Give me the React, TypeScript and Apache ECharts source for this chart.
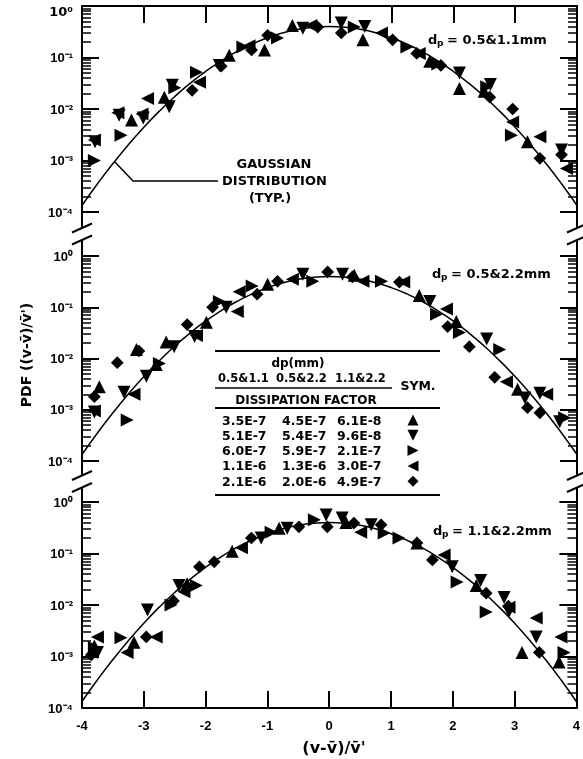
import React, { useEffect, useRef } from 'react';
import * as echarts from 'echarts';

// ---------- data ----------
const X_TICKS = [-4, -3, -2, -1, 0, 1, 2, 3, 4];
const Y_LABELS: Record<string, string> = { '0': '10\u2070', '-1': '10\u207B\u00B9', '-2': '10\u207B\u00B2', '-3': '10\u207B\u00B3', '-4': '10\u207B\u2074' };
const GAUSS_X = [-4, -3.75, -3.5, -3.25, -3, -2.75, -2.5, -2.25, -2, -1.75, -1.5, -1.25, -1, -0.75, -0.5, -0.25, 0,
  0.25, 0.5, 0.75, 1, 1.25, 1.5, 1.75, 2, 2.25, 2.5, 2.75, 3, 3.25, 3.5, 3.75, 4];
const GAUSS_Y = [0.0001338, 0.0003527, 0.0008727, 0.002029, 0.004432, 0.00909, 0.01753, 0.03174, 0.05399, 0.08628,
  0.12952, 0.18265, 0.24197, 0.30114, 0.35207, 0.38667, 0.39894, 0.38667, 0.35207, 0.30114, 0.24197, 0.18265,
  0.12952, 0.08628, 0.05399, 0.03174, 0.01753, 0.00909, 0.004432, 0.002029, 0.0008727, 0.0003527, 0.0001338];

// panel 1 : dp = 0.5&1.1mm
const P1_UP = [[-3.2, 6.1e-3], [-2.67, 1.7e-2], [-1.62, 0.11], [-1.05, 0.14], [-0.6, 0.42], [0.54, 0.22], [1.62, 0.085], [2.1, 0.025], [2.5, 0.022], [3.2, 2.3e-3]];
const P1_DOWN = [[-3.79, 2.3e-3], [-3.4, 7.6e-3], [-3.01, 6.7e-3], [-2.59, 1.1e-2], [-2.54, 2.9e-2], [-1.78, 0.07], [-0.43, 0.37], [0.19, 0.47], [0.57, 0.4], [2.1, 0.05], [2.6, 0.03], [3.75, 1.6e-3]];
const P1_RIGHT = [[-3.8, 1.0e-3], [-3.37, 3.1e-3], [-2.5, 2.6e-2], [-2.15, 5.2e-2], [-1.4, 0.16], [-0.84, 0.24], [0.4, 0.39], [1.25, 0.16], [1.75, 0.075], [2.54, 0.027], [2.94, 3.1e-3]];
const P1_LEFT = [[-3.8, 2.5e-3], [-3.42, 8.5e-3], [-3.03, 8.0e-3], [-2.94, 1.6e-2], [-2.1, 3.3e-2], [-1.3, 0.17], [-0.3, 0.42], [0.84, 0.3], [1.45, 0.12], [2.96, 5.6e-3], [3.4, 2.9e-3], [3.83, 7.0e-4]];
const P1_DIAMOND = [[-2.22, 2.3e-2], [-1.75, 0.068], [-1.26, 0.14], [-1.0, 0.27], [-0.19, 0.39], [0.19, 0.3], [1.02, 0.22], [1.41, 0.12], [1.8, 0.07], [2.59, 0.017], [2.96, 0.01], [3.4, 1.1e-3], [3.75, 1.3e-3]];

// panel 2 : dp = 0.5&2.2mm
const P2_UP = [[-3.72, 2.8e-3], [-3.12, 1.5e-2], [-2.8, 7.6e-3], [-2.64, 2.1e-2], [-1.99, 0.051], [-1.0, 0.28], [0.4, 0.42], [1.45, 0.17], [2.05, 0.053], [3.04, 2.5e-3]];
const P2_DOWN = [[-3.8, 9e-4], [-3.32, 2.2e-3], [-2.96, 4.5e-3], [-2.51, 1.7e-2], [-2.18, 2.7e-2], [-1.67, 0.1], [-0.43, 0.44], [0.21, 0.44], [1.62, 0.13], [2.54, 0.024], [3.16, 1.7e-3], [3.4, 2.1e-3], [3.72, 5.8e-4]];
const P2_RIGHT = [[-3.27, 6.3e-4], [-2.75, 8e-3], [-1.78, 0.13], [-1.25, 0.26], [-0.27, 0.32], [0.84, 0.32], [1.73, 0.073], [2.1, 0.032], [2.75, 0.015], [3.8, 7e-4]];
const P2_LEFT = [[-3.8, 9.5e-4], [-3.16, 2.0e-3], [-2.15, 2.8e-2], [-1.49, 0.083], [-1.46, 0.2], [-0.6, 0.35], [0.54, 0.32], [1.2, 0.31], [1.89, 0.092], [2.86, 3.5e-3], [3.51, 2.0e-3]];
const P2_DIAMOND = [[-3.8, 1.8e-3], [-3.43, 8.3e-3], [-3.08, 1.4e-2], [-2.3, 4.6e-2], [-1.89, 0.1], [-1.17, 0.18], [-0.84, 0.32], [-0.03, 0.49], [0.37, 0.39], [1.13, 0.31], [1.91, 0.042], [2.26, 0.017], [2.67, 4.3e-3], [3.2, 1.1e-3], [3.4, 8.7e-4]];

// panel 3 : dp = 1.1&2.2mm
const P3_UP = [[-3.8, 1.6e-3], [-3.16, 1.9e-3], [-2.3, 2.6e-2], [-1.57, 0.11], [-0.81, 0.31], [0.27, 0.4], [1.42, 0.16], [2.38, 0.024], [3.12, 1.2e-3], [3.72, 7.8e-4]];
const P3_DOWN = [[-3.75, 1.2e-3], [-2.94, 8e-3], [-2.43, 2.4e-2], [-1.1, 0.2], [-0.68, 0.31], [-0.05, 0.56], [0.21, 0.49], [0.68, 0.36], [1.99, 0.055], [2.45, 0.03], [2.83, 0.014], [2.91, 0.0075], [3.35, 2.4e-3]];
const P3_RIGHT = [[-3.8, 1.5e-3], [-3.37, 2.3e-3], [-2.56, 1.0e-2], [-2.15, 2.4e-2], [-0.94, 0.26], [-0.24, 0.45], [0.89, 0.25], [1.13, 0.2], [2.07, 0.028], [2.54, 7.3e-3], [3.8, 1.2e-3]];
const P3_LEFT = [[-3.75, 2.4e-3], [-3.27, 1.2e-3], [-2.8, 2.4e-3], [-2.35, 1.8e-2], [-1.42, 0.13], [0.51, 0.26], [1.86, 0.093], [2.91, 9e-3], [3.35, 5.6e-3], [3.75, 2.4e-3]];
const P3_DIAMOND = [[-3.85, 1.07e-3], [-2.96, 2.4e-3], [-2.52, 1.2e-2], [-2.1, 5.5e-2], [-1.86, 0.069], [-1.26, 0.2], [-0.49, 0.33], [-0.03, 0.33], [0.4, 0.39], [0.84, 0.36], [1.42, 0.16], [1.67, 0.075], [2.54, 0.017], [2.9, 9.5e-3], [3.4, 1.2e-3]];

const PANEL_LABELS = ['= 0.5&1.1mm', '= 0.5&2.2mm', '= 1.1&2.2mm'];
const TABLE_HEAD = ['0.5&1.1', '0.5&2.2', '1.1&2.2'];
const TABLE_ROWS = [
  ['3.5E-7', '4.5E-7', '6.1E-8'],
  ['5.1E-7', '5.4E-7', '9.6E-8'],
  ['6.0E-7', '5.9E-7', '2.1E-7'],
  ['1.1E-6', '1.3E-6', '3.0E-7'],
  ['2.1E-6', '2.0E-6', '4.9E-7'],
];
const SYMBOL_KEYS = ['up', 'down', 'right', 'left', 'diamond'];

// ---------- layout / style ----------
const FONT = '"DejaVu Sans", "Liberation Sans", Arial, sans-serif';
const LEFT = 82;
const WIDTH = 495;
const GRIDS = [
  { top: 6, height: 206 },
  { top: 256, height: 205 },
  { top: 502, height: 206 },
];
const MINOR_LEN = 9 / (WIDTH / 8); // minor tick length in x units
const SYM_STYLE: Record<string, { symbol: string; rotate: number; size: number }> = {
  up: { symbol: 'triangle', rotate: 0, size: 13 },
  down: { symbol: 'triangle', rotate: 180, size: 13 },
  right: { symbol: 'triangle', rotate: -90, size: 13 },
  left: { symbol: 'triangle', rotate: 90, size: 13 },
  diamond: { symbol: 'rect', rotate: 45, size: 9 },
};

const PANELS = [
  { up: P1_UP, down: P1_DOWN, right: P1_RIGHT, left: P1_LEFT, diamond: P1_DIAMOND },
  { up: P2_UP, down: P2_DOWN, right: P2_RIGHT, left: P2_LEFT, diamond: P2_DIAMOND },
  { up: P3_UP, down: P3_DOWN, right: P3_RIGHT, left: P3_LEFT, diamond: P3_DIAMOND },
];

function txt(x: number, y: number, text: string, size = 13, align = 'left', extra: any = {}) {
  return {
    type: 'text', x, y, ...extra,
    style: {
      text, fontSize: size, fontWeight: 'bold', fontFamily: FONT, fill: '#000',
      align, textAlign: align, verticalAlign: 'middle', textVerticalAlign: 'middle',
    },
  };
}
function ln(x1: number, y1: number, x2: number, y2: number, w = 2) {
  return { type: 'line', shape: { x1, y1, x2, y2 }, style: { stroke: '#000', lineWidth: w } };
}
function marker(key: string, cx: number, cy: number) {
  const s = 5.5;
  let pts: number[][];
  if (key === 'up') pts = [[cx - s, cy + s], [cx + s, cy + s], [cx, cy - s]];
  else if (key === 'down') pts = [[cx - s, cy - s], [cx + s, cy - s], [cx, cy + s]];
  else if (key === 'right') pts = [[cx - s, cy - s], [cx - s, cy + s], [cx + s, cy]];
  else if (key === 'left') pts = [[cx + s, cy - s], [cx + s, cy + s], [cx - s, cy]];
  else pts = [[cx, cy - s], [cx + s, cy], [cx, cy + s], [cx - s, cy]];
  return { type: 'polygon', shape: { points: pts }, style: { fill: '#000' } };
}

export default function App() {
  const ref = useRef<HTMLDivElement>(null);
  useEffect(() => {
    if (!ref.current) return;
    const chart = echarts.init(ref.current, undefined, { renderer: 'svg' });

    const xMin = X_TICKS[0];
    const xMax = X_TICKS[X_TICKS.length - 1];

    const xAxis: any[] = [];
    const yAxis: any[] = [];
    const series: any[] = [];
    const grid = GRIDS.map((g) => ({ left: LEFT, width: WIDTH, top: g.top, height: g.height }));

    GRIDS.forEach((g, i) => {
      const minorLines: any[] = [];
      for (let e = -4; e < 0; e++) {
        for (let m = 2; m <= 9; m++) {
          const v = m * Math.pow(10, e);
          minorLines.push([{ coord: [xMin, v] }, { coord: [xMin + MINOR_LEN, v] }]);
          minorLines.push([{ coord: [xMax - MINOR_LEN, v] }, { coord: [xMax, v] }]);
        }
      }
      xAxis.push({
        type: 'value', gridIndex: i, min: xMin, max: xMax, interval: 1,
        position: i === 0 ? 'top' : 'bottom',
        show: i !== 1,
        axisLine: { show: true, onZero: false, lineStyle: { color: '#000', width: 2 } },
        axisTick: { show: true, inside: true, length: 17, lineStyle: { color: '#000', width: 2 } },
        axisLabel: { show: i === 2, margin: 11, color: '#000', fontSize: 13, fontWeight: 'bold' },
        splitLine: { show: false },
      });
      yAxis.push({
        type: 'log', gridIndex: i, min: 1e-4, max: 1, position: 'left',
        axisLine: { show: true, onZero: false, lineStyle: { color: '#000', width: 2 } },
        axisTick: { show: true, inside: true, length: 17, lineStyle: { color: '#000', width: 2 } },
        splitLine: { show: false },
        axisLabel: {
          show: true, margin: 9, color: '#000', fontSize: 13, fontWeight: 'bold', showMaxLabel: i !== 0,
          formatter: (v: number) => Y_LABELS[String(Math.round(Math.log10(v)))] || '',
        },
      });
      yAxis.push({
        type: 'log', gridIndex: i, min: 1e-4, max: 1, position: 'right',
        axisLine: { show: true, onZero: false, lineStyle: { color: '#000', width: 2 } },
        axisTick: { show: true, inside: true, length: 17, lineStyle: { color: '#000', width: 2 } },
        splitLine: { show: false },
        axisLabel: { show: false },
      });

      series.push({
        type: 'line', xAxisIndex: i, yAxisIndex: i * 2, smooth: true, showSymbol: false,
        data: GAUSS_X.map((x, k) => [x, GAUSS_Y[k]]),
        lineStyle: { color: '#000', width: 1.5 },
        markLine: {
          symbol: ['none', 'none'], label: { show: false },
          lineStyle: { color: '#000', width: 1.5, type: 'solid' },
          data: minorLines,
        },
      });
      SYMBOL_KEYS.forEach((key) => {
        const st = SYM_STYLE[key];
        series.push({
          type: 'scatter', xAxisIndex: i, yAxisIndex: i * 2,
          symbol: st.symbol, symbolRotate: st.rotate, symbolSize: st.size,
          itemStyle: { color: '#000', opacity: 1 }, data: (PANELS[i] as any)[key],
        });
      });
    });

    chart.setOption({ animation: false, grid, xAxis, yAxis, series });

    // graphic decorations
    const graphic: any[] = [];
    const RIGHT = LEFT + WIDTH;
    const gaps = [
      [GRIDS[0].top + GRIDS[0].height, GRIDS[1].top],
      [GRIDS[1].top + GRIDS[1].height, GRIDS[2].top],
    ];
    gaps.forEach(([a, b]) => {
      const c = (a + b) / 2;
      const y1 = c - 6;
      const y2 = c + 6;
      [LEFT, RIGHT].forEach((ax) => {
        graphic.push(ln(ax, a, ax, y1, 2));
        graphic.push(ln(ax, y2, ax, b, 2));
        graphic.push(ln(ax - 10, y1 + 4.5, ax + 10, y1 - 4.5, 2));
        graphic.push(ln(ax - 10, y2 + 4.5, ax + 10, y2 - 4.5, 2));
      });
    });
    graphic.push(txt(73, 11, Y_LABELS['0'], 13, 'right'));
    const labelPos = [[428, 39], [432, 273], [433, 530]];
    labelPos.forEach(([x, y], i) => {
      graphic.push(txt(x, y, 'd', 13));
      graphic.push(txt(x + 9, y + 4, 'p', 9));
      graphic.push(txt(x + 19, y, PANEL_LABELS[i], 13));
    });
    graphic.push({ type: 'polyline', shape: { points: [[115, 162], [133, 181], [218, 181]] }, style: { stroke: '#000', fill: 'none', lineWidth: 1.5 } });
    graphic.push(txt(274, 163, 'GAUSSIAN', 13, 'center'));
    graphic.push(txt(222, 180, 'DISTRIBUTION', 13, 'left'));
    graphic.push(txt(270, 197, '(TYP.)', 13, 'center'));
    graphic.push(txt(26, 355, "PDF ((v-v\u0304)/v\u0304')", 14, 'center', { rotation: Math.PI / 2 }));
    graphic.push(txt(334, 747, "(v-v\u0304)/v\u0304'", 16, 'center'));
    graphic.push(ln(215, 351, 440, 351, 2));
    graphic.push(txt(298, 363, 'dp(mm)', 12, 'center'));
    const colX = [218, 276, 335];
    TABLE_HEAD.forEach((h, k) => graphic.push(txt(colX[k], 378, h, 11.5)));
    graphic.push(ln(215, 388, 392, 388, 1.5));
    graphic.push(txt(418, 385, 'SYM.', 12.5, 'center'));
    graphic.push(txt(306, 400, 'DISSIPATION FACTOR', 12, 'center'));
    graphic.push(ln(215, 408, 440, 408, 2));
    const rowX = [222, 282, 337];
    TABLE_ROWS.forEach((row, r) => {
      const y = 420 + r * 15.3;
      row.forEach((c, k) => graphic.push(txt(rowX[k], y, c, 12.5)));
      graphic.push(marker(SYMBOL_KEYS[r], 413, y));
    });
    graphic.push(ln(215, 495, 440, 495, 2));

    chart.setOption({ graphic });

    return () => chart.dispose();
  }, []);
  return <div ref={ref} style={{ position: 'fixed', left: 0, top: 0, width: 583, height: 759 }} />;
}
